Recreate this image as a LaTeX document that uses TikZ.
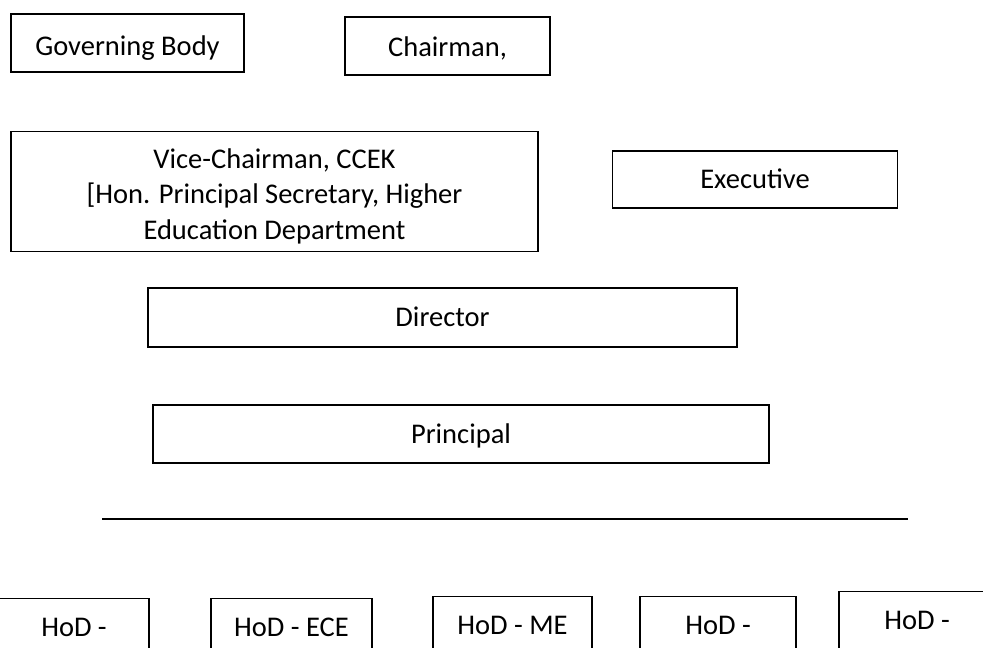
\documentclass[tikz,border=0pt]{standalone}
\usepackage{fontspec}
\setmainfont{Carlito}
\usetikzlibrary{calc}

\begin{document}
\begin{tikzpicture}[x=1pt, y=-1pt,
        unit/.style={draw, line width=1.2pt, inner sep=0pt, font=\fontsize{28.5}{35}\selectfont, text height=22pt, text depth=4pt},
        hod/.style={unit, anchor=north, inner ysep=15.5pt, text depth=60pt},
        txt/.style={inner sep=0pt, anchor=base, font=\fontsize{28.5}{35}\selectfont}
    ]

        % Page frame
        \useasboundingbox (0,0) rectangle (983,648);
        \clip (0,0) rectangle (983,648);

        % Top row
        \node[unit, minimum width=233pt, minimum height=58pt, text height=26pt, text depth=2pt] (gov) at (127.5,43) {Governing Body};
        \node[unit, minimum width=205pt, minimum height=58pt, text height=24pt, text depth=4pt] (chair) at (447.5,46) {Chairman,};

        % Vice-Chairman box, its last line is cut by the frame
        \node[unit, minimum width=527pt, minimum height=120pt] (vice) at (274.5,191.5) {};
        \begin{scope}
            \clip (vice.north west) rectangle ($(vice.south east)+(0,-9)$);
            \node[txt] (vline1) at (274.5,168) {Vice-Chairman, CCEK};
            \node[txt] (vline2) at (274.5,203) {[Hon. Principal Secretary, Higher};
            \node[txt] (vline3) at (274.5,239) {Education Department};
        \end{scope}
        \node[unit, minimum width=285pt, minimum height=57pt] (exec) at (755,179.5) {Executive};

        % Director and Principal
        \node[unit, minimum width=589pt, minimum height=59pt] (dir) at (442.5,317.5) {Director};
        \node[unit, minimum width=616pt, minimum height=58pt] (prin) at (461,434) {Principal};

        % Bar
        \coordinate (barL) at (102,519);
        \coordinate (barR) at (908,519);
        \draw[line width=1.5pt] (barL) -- (barR);

        % Heads of department
        \node[hod, minimum width=150pt] (hodA) at (74,598) {HoD -};
        \node[hod, minimum width=161pt] (hodB) at (291.5,598) {HoD - ECE};
        \node[hod, minimum width=159pt] (hodC) at (512.5,596) {HoD - ME};
        \node[hod, minimum width=156pt] (hodD) at (718,596) {HoD -};
        \node[hod, minimum width=156pt] (hodE) at (917,591) {HoD -};

    \end{tikzpicture}
\end{document}
